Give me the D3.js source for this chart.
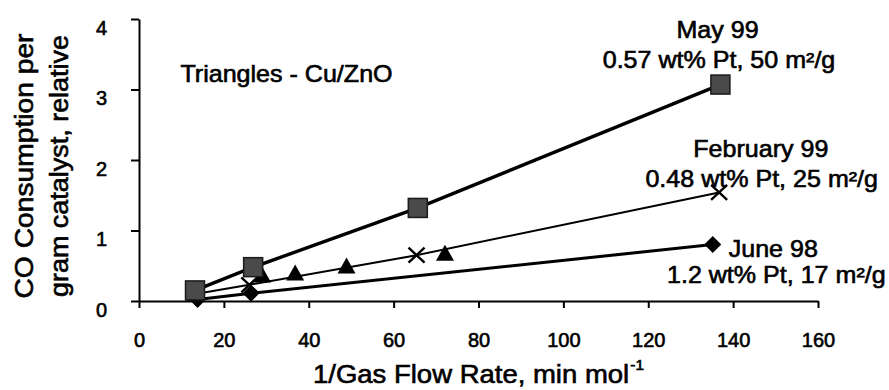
<!DOCTYPE html>
<html>
<head>
<meta charset="utf-8">
<script src="https://cdn.jsdelivr.net/npm/d3@7"></script>
<style>
  html, body { margin: 0; padding: 0; background: #fff; }
  svg { display: block; }
  text { font-family: "Liberation Sans", Arial, Helvetica, sans-serif; fill: #000; stroke: #000; stroke-width: 0.6px; }
</style>
</head>
<body>
<svg id="chart" width="889" height="390"></svg>
<script>
// Catalyst runs: 1/gas flow rate (min/mol) vs relative CO consumption
const may99X = [13.2, 26.9, 65.7, 137.0];
const may99Y = [0.15, 0.48, 1.32, 3.07];

const feb99X = [13.3, 26.0, 65.4, 136.7];
const feb99Y = [0.10, 0.23, 0.65, 1.54];

const jun98X = [13.8, 26.4, 135.2];
const jun98Y = [0.02, 0.11, 0.80];

// Cu/ZnO reference catalyst (markers only)
const cuznoX = [29.0, 36.8, 48.9, 72.1];
const cuznoY = [0.36, 0.39, 0.49, 0.67];

const xTicks = [0, 20, 40, 60, 80, 100, 120, 140, 160];
const yTicks = [0, 1, 2, 3, 4];

const seriesNames = ["May 99", "February 99", "June 98"];
const seriesNotes = ["0.57 wt% Pt, 50 m²/g", "0.48 wt% Pt, 25 m²/g", "1.2 wt% Pt, 17 m²/g"];
const noteText = "Triangles - Cu/ZnO";
const xTitle = "1/Gas Flow Rate, min mol";
const xTitleSup = "-1";
const yTitle = ["CO Consumption per", "gram catalyst, relative"];

const svg = d3.select("#chart");

const x = d3.scaleLinear().domain([0, 160]).range([139, 818]);
const y = d3.scaleLinear().domain([0, 4]).range([301, 19]);

const zip = (xs, ys) => xs.map((v, i) => [v, ys[i]]);
const may = zip(may99X, may99Y);
const feb = zip(feb99X, feb99Y);
const jun = zip(jun98X, jun98Y);
const cuzno = zip(cuznoX, cuznoY);

// Axes
const xAxis = svg.append("g")
  .attr("transform", `translate(0,${y(0)})`)
  .call(d3.axisBottom(x).tickValues(xTicks).tickSize(7).tickSizeOuter(0).tickFormat(d3.format("d")));
const yAxis = svg.append("g")
  .attr("transform", `translate(${x(0)},0)`)
  .call(d3.axisLeft(y).tickValues(yTicks).tickSize(8).tickSizeOuter(0).tickFormat(d3.format("d")));

[xAxis, yAxis].forEach(g => {
  g.attr("font-size", 20).attr("font-family", null);
  g.select(".domain").attr("stroke", "#000").attr("stroke-width", 2);
  g.selectAll(".tick line").attr("stroke", "#000").attr("stroke-width", 2);
  g.selectAll(".tick text").attr("fill", "#000");
});
xAxis.selectAll(".tick text").attr("y", 39).attr("dy", "0.35em");
yAxis.selectAll(".tick text").attr("x", -32).attr("y", 8).attr("dy", "0.35em");

// Series lines
const line = d3.line().x(d => x(d[0])).y(d => y(d[1]));
svg.append("path").datum(jun).attr("d", line)
  .attr("fill", "none").attr("stroke", "#000").attr("stroke-width", 3);
svg.append("path").datum(feb).attr("d", line)
  .attr("fill", "none").attr("stroke", "#000").attr("stroke-width", 2);
svg.append("path").datum(may).attr("d", line)
  .attr("fill", "none").attr("stroke", "#000").attr("stroke-width", 3.4);

// Markers
svg.append("g").selectAll("path").data(cuzno).join("path")
  .attr("transform", d => `translate(${x(d[0])},${y(d[1])})`)
  .attr("d", "M0,-9L9,7L-9,7Z").attr("fill", "#000");

svg.append("g").selectAll("path").data(jun).join("path")
  .attr("transform", d => `translate(${x(d[0])},${y(d[1])})`)
  .attr("d", "M0,-8.5L8.5,0L0,8.5L-8.5,0Z").attr("fill", "#000");

svg.append("g").selectAll("path").data(feb).join("path")
  .attr("transform", d => `translate(${x(d[0])},${y(d[1])})`)
  .attr("d", "M-8,-7.5L8,7.5M-8,7.5L8,-7.5")
  .attr("fill", "none").attr("stroke", "#000").attr("stroke-width", 2.4);

svg.append("g").selectAll("rect").data(may).join("rect")
  .attr("x", d => x(d[0]) - 9.5).attr("y", d => y(d[1]) - 9.5)
  .attr("width", 19).attr("height", 19)
  .attr("fill", "#4a4a4a").attr("stroke", "#1a1a1a").attr("stroke-width", 1.5);

// Annotations
const ann = svg.append("g").attr("font-size", 23);
function label(cx, base, str) {
  ann.append("text")
    .attr("transform", `translate(${cx},${base}) scale(1.09,1)`)
    .attr("text-anchor", "middle")
    .text(str);
}
label(717.5, 38.3, seriesNames[0]);
label(719, 68.3, seriesNotes[0]);
label(760.8, 156.7, seriesNames[1]);
label(761.7, 186.7, seriesNotes[1]);
label(773.3, 256.7, seriesNames[2]);
label(776.3, 283.3, seriesNotes[2]);
label(286.5, 81.7, noteText);

// Axis titles
const xt = svg.append("text")
  .attr("transform", "translate(313,383) scale(1.1,1)")
  .attr("font-size", 25);
xt.append("tspan").text(xTitle);
xt.append("tspan").attr("font-size", 14).attr("dy", -13).attr("dx", 1).text(xTitleSup);

const yt = svg.append("g").attr("font-size", 25);
[[32.5, yTitle[0], 265], [68, yTitle[1], 262]].forEach(([bx, str, len]) => {
  yt.append("text")
    .attr("transform", `translate(${bx},166) rotate(-90)`)
    .attr("text-anchor", "middle")
    .attr("textLength", len)
    .attr("lengthAdjust", "spacingAndGlyphs")
    .text(str);
});
</script>
</body>
</html>
